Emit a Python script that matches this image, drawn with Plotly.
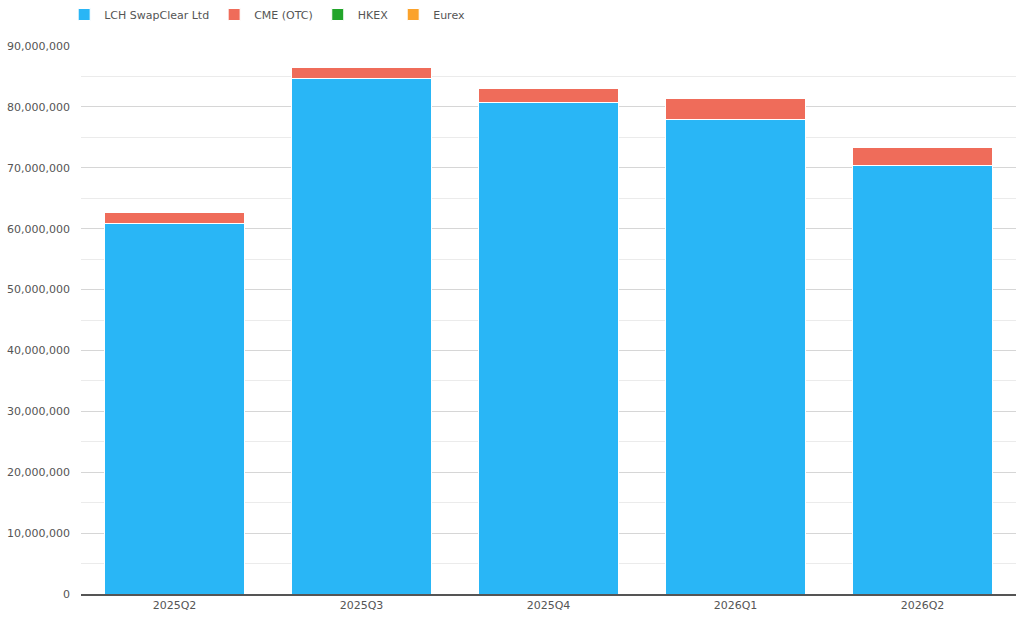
import plotly.graph_objects as go

quarters = ["2025Q2", "2025Q3", "2025Q4", "2026Q1", "2026Q2"]
lch = [60770000, 84700000, 80750000, 77850000, 70450000]
cme = [1850000, 1700000, 2250000, 3600000, 2950000]
hkex = [20000, 20000, 20000, 20000, 20000]
eurex = [40000, 40000, 40000, 40000, 40000]

series = [
    ("LCH SwapClear Ltd", lch, "#29b6f6"),
    ("CME (OTC)", cme, "#ef6c5a"),
    ("HKEX", hkex, "#22a52a"),
    ("Eurex", eurex, "#fba22b"),
]

fig = go.Figure()
for name, vals, col in series:
    fig.add_trace(go.Bar(
        x=quarters, y=vals, name=name,
        marker=dict(color=col, line=dict(color="white", width=1)),
        hovertemplate="%{x}<br>" + name + ": %{y:,}<extra></extra>",
    ))

fig.update_layout(
    barmode="stack",
    bargap=0.25,
    width=1024, height=623,
    paper_bgcolor="white", plot_bgcolor="white",
    margin=dict(l=81, r=8, t=46, b=29),
    font=dict(family="DejaVu Sans, Verdana, sans-serif", size=11, color="#666666"),
    legend=dict(orientation="h", x=-0.018, xanchor="left", y=1.0, yanchor="top",
                yref="container", font=dict(size=11, color="#555555"),
                itemwidth=30, traceorder="normal", bgcolor="rgba(0,0,0,0)"),
    xaxis=dict(showline=True, linecolor="#555555", linewidth=1.5, ticks="",
               showgrid=False, tickfont=dict(size=11, color="#555555")),
    yaxis=dict(range=[0, 90000000], dtick=10000000, tickformat=",d",
               showgrid=True, gridcolor="#d6d6d6", gridwidth=1,
               zeroline=False, ticks="", ticklen=0, ticklabelstandoff=10,
               minor=dict(dtick=5000000, showgrid=True, gridcolor="#ebebeb", gridwidth=1),
               tickfont=dict(size=11, color="#555555")),
)

fig.write_html("out.html")
